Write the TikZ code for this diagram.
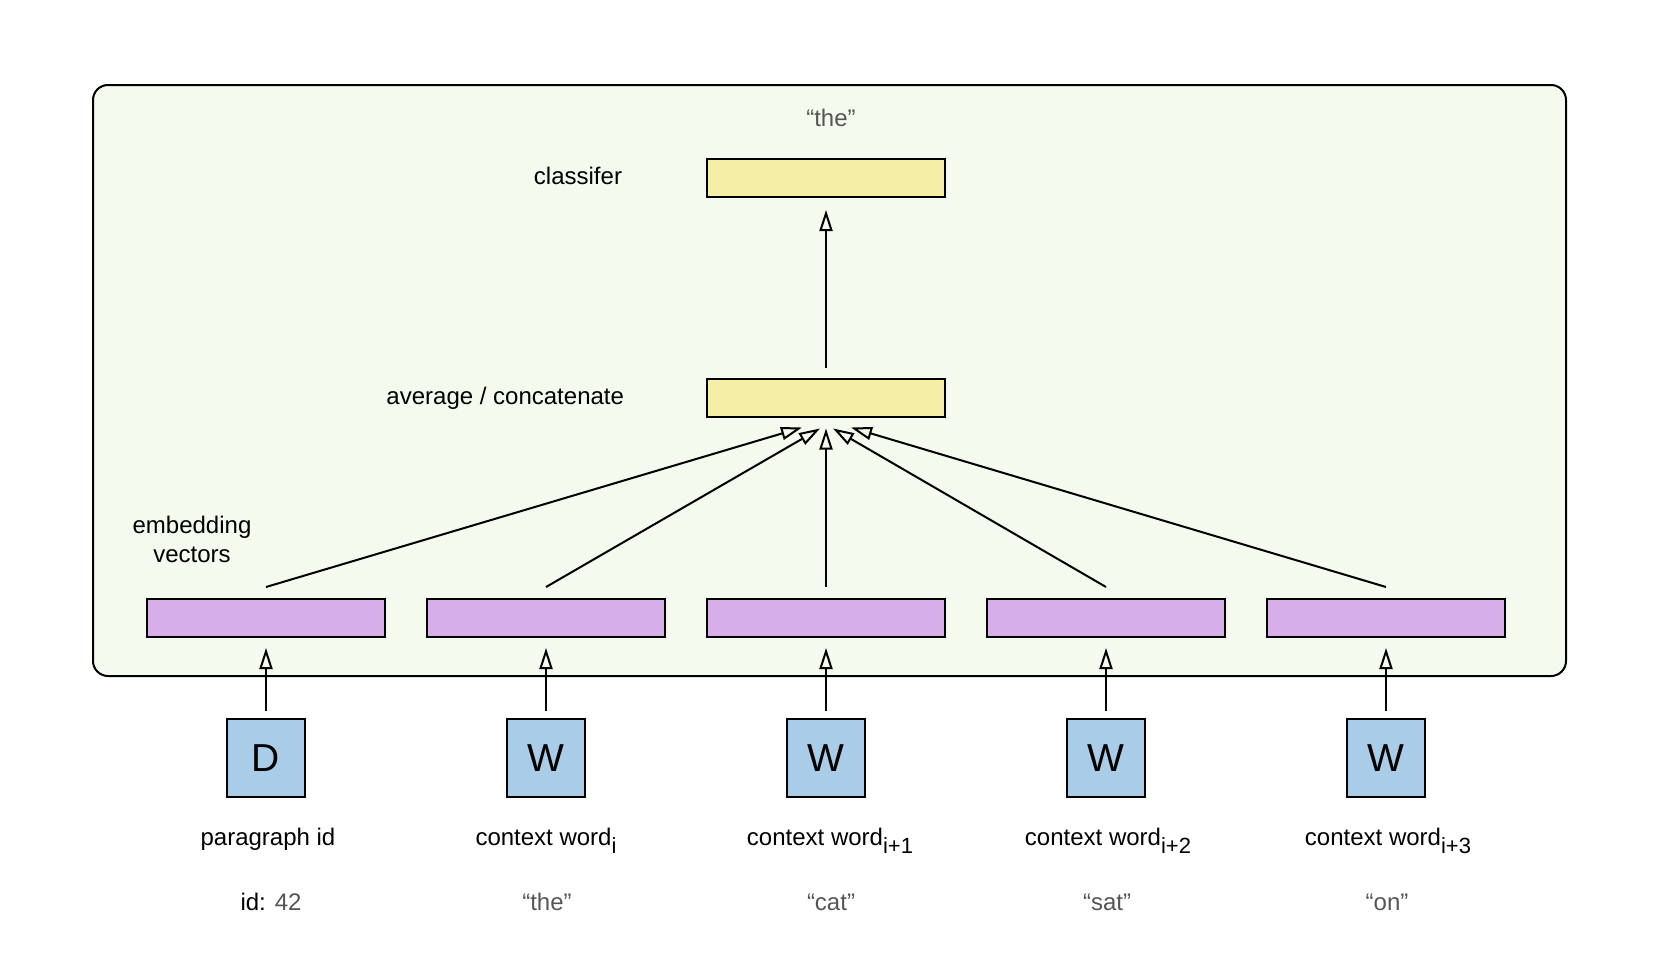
\documentclass[tikz,border=0pt]{standalone}
\usepackage{fontspec}
\setmainfont{Liberation Sans}
\usetikzlibrary{positioning, arrows.meta}

\definecolor{framegreen}{RGB}{245,250,239}
\definecolor{layeryellow}{RGB}{245,239,166}
\definecolor{embedpurple}{RGB}{213,174,234}
\definecolor{lookupblue}{RGB}{169,204,232}
\definecolor{quotegray}{RGB}{85,85,85}
\newcommand{\lowsub}[1]{\raisebox{-8.5pt}{\fontsize{22}{24}\selectfont #1}}

\begin{document}
\begin{tikzpicture}[x=1pt, y=-1pt, node distance={280pt}, line width=2pt, font=\fontsize{24}{29}\selectfont]
                \tikzstyle{embed} = [draw, rectangle, minimum width=238pt, minimum height=38pt, inner sep=0pt, fill=embedpurple]
                \tikzstyle{hidden} = [draw, rectangle, minimum width=238pt, minimum height=38pt, inner sep=0pt, fill=layeryellow]
                \tikzstyle{lookup} = [draw, rectangle, minimum size=78pt, inner sep=0pt, fill=lookupblue, font=\fontsize{39}{39}\selectfont]
                \tikzstyle{lbl} = [inner sep=0pt]
                \tikzstyle{arr} = [-{Triangle[open, length=21pt, width=13pt]}]

                \useasboundingbox (0,0) rectangle (1658,972);

                % Model frame (light green background)
                \draw[fill=framegreen, rounded corners=15pt] (93,85) rectangle (1566,676);

                % Embedding vectors (purple row)
                \node[embed] (e1) at (266,618) {};
                \node[embed] (e2) [right of=e1] {};
                \node[embed] (e3) [right of=e2] {};
                \node[embed] (e4) [right of=e3] {};
                \node[embed] (e5) [right of=e4] {};

                % Lookup matrices (blue squares)
                \node[lookup] (b1) at (266,758) {\raisebox{-2pt}{D}};
                \node[lookup] (b2) [right of=b1] {\raisebox{-2pt}{W}};
                \node[lookup] (b3) [right of=b2] {\raisebox{-2pt}{W}};
                \node[lookup] (b4) [right of=b3] {\raisebox{-2pt}{W}};
                \node[lookup] (b5) [right of=b4] {\raisebox{-2pt}{W}};

                % Hidden layers (yellow)
                \node[hidden] (avg) at (826,397.5) {};
                \node[hidden] (cls) at (826,178) {};

                % Layer labels
                \node[lbl, anchor=base, text=quotegray] (target) at (831,126) {“the”};
                \node[lbl, anchor=base east] (clslbl) at (623,184) {classifer};
                \node[lbl, anchor=base east] (avglbl) at (625,404) {average / concatenate};
                \node[lbl, align=center] (emblbl) at (192,539) {embedding\\vectors};

                % Input labels
                \node[lbl, anchor=base] (in1) at (268,845) {paragraph id};
                \node[lbl, anchor=base] (in2) at (546,845) {context word\lowsub{i}};
                \node[lbl, anchor=base] (in3) at (830,845) {context word\lowsub{i+1}};
                \node[lbl, anchor=base] (in4) at (1108,845) {context word\lowsub{i+2}};
                \node[lbl, anchor=base] (in5) at (1388,845) {context word\lowsub{i+3}};

                \node[lbl, anchor=base] (w1) at (271,910) {id: \textcolor{quotegray}{42}};
                \node[lbl, anchor=base, text=quotegray] (w2) at (547,910) {“the”};
                \node[lbl, anchor=base, text=quotegray] (w3) at (831,910) {“cat”};
                \node[lbl, anchor=base, text=quotegray] (w4) at (1107,910) {“sat”};
                \node[lbl, anchor=base, text=quotegray] (w5) at (1387,910) {“on”};

                % Lookups
                \draw[arr] ([yshift=7pt]b1.north) -- ([yshift=-10pt]e1.south);
                \draw[arr] ([yshift=7pt]b2.north) -- ([yshift=-10pt]e2.south);
                \draw[arr] ([yshift=7pt]b3.north) -- ([yshift=-10pt]e3.south);
                \draw[arr] ([yshift=7pt]b4.north) -- ([yshift=-10pt]e4.south);
                \draw[arr] ([yshift=7pt]b5.north) -- ([yshift=-10pt]e5.south);

                % Combine
                \draw[arr] ([yshift=11pt]e1.north) -- ([xshift=-24pt, yshift=-10pt]avg.south);
                \draw[arr] ([yshift=11pt]e2.north) -- ([xshift=-6pt, yshift=-11pt]avg.south);
                \draw[arr] ([yshift=11pt]e3.north) -- ([yshift=-11pt]avg.south);
                \draw[arr] ([yshift=11pt]e4.north) -- ([xshift=7pt, yshift=-11pt]avg.south);
                \draw[arr] ([yshift=11pt]e5.north) -- ([xshift=25pt, yshift=-10pt]avg.south);

                % Classify
                \draw[arr] ([yshift=10pt]avg.north) -- ([yshift=-12pt]cls.south);
            \end{tikzpicture}
\end{document}
